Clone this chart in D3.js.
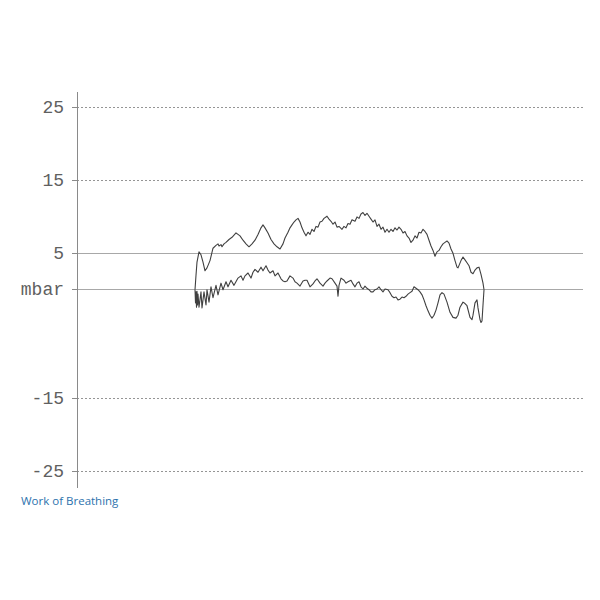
<!DOCTYPE html>
<html>
	<head>
		<script type="text/javascript" src="https://cdn.jsdelivr.net/npm/d3@7"></script>
		<style type="text/css">
			body {
				margin: 0;
				background: #fff;
			}
			svg {
				display: block;
			}
			.axis line,
			.axis path {
				stroke: #8a8a8a;
				shape-rendering: crispEdges;
			}
			.axis text {
				font: 18px "Liberation Mono", "DejaVu Sans Mono", monospace;
				fill: #606060;
			}
			.grid line {
				stroke: #a8a8a8;
				shape-rendering: crispEdges;
			}
			.grid line.dashed {
				stroke-dasharray: 2, 2;
				stroke: #959595;
			}
			.trace {
				fill: none;
				stroke: #404040;
				stroke-width: 1.1;
				stroke-linejoin: round;
			}
			.caption {
				font: 11.5px "Open Sans", sans-serif;
				fill: #2c72ad;
			}
		</style>
	</head>
<body>
	<script type="text/javascript">
		// pressure ticks (mbar)
		var tickValues = [25, 15, 5, 0, -15, -25];
		var tickLabels = ["25", "15", "5", "mbar", "-15", "-25"];
		var dashedTicks = [25, 15, -15, -25];

		// upper trace: [time s, pressure mbar]
		var upperTrace = [
			[0.00, -0.1], [0.01, 1.9], [0.02, 3.7], [0.04, 5.1], [0.06, 4.7], [0.08, 3.7],
			[0.10, 2.5], [0.12, 2.9], [0.15, 3.9], [0.18, 5.6], [0.21, 6.0], [0.23, 6.2],
			[0.24, 5.9], [0.26, 6.1], [0.27, 5.8], [0.29, 6.2], [0.31, 6.4], [0.34, 6.8],
			[0.37, 7.1], [0.41, 7.7], [0.43, 7.5], [0.45, 7.3], [0.48, 6.7], [0.51, 6.2],
			[0.54, 5.8], [0.57, 6.2], [0.60, 6.7], [0.63, 7.5], [0.66, 8.4], [0.68, 8.8],
			[0.70, 8.4], [0.73, 7.7], [0.76, 6.8], [0.79, 6.2], [0.82, 5.8], [0.85, 5.5],
			[0.88, 6.2], [0.90, 7.0], [0.93, 7.8], [0.95, 8.4], [0.97, 8.8], [0.99, 9.2],
			[1.01, 9.5], [1.03, 9.7], [1.05, 9.2], [1.07, 8.4], [1.09, 7.8], [1.11, 7.3],
			[1.13, 7.8], [1.15, 7.5], [1.17, 8.2], [1.19, 7.9], [1.21, 8.6], [1.23, 8.5],
			[1.25, 9.2], [1.27, 9.3], [1.29, 9.7], [1.32, 10.0], [1.34, 9.6], [1.36, 9.3],
			[1.38, 8.9], [1.40, 9.2], [1.42, 8.5], [1.44, 8.6], [1.47, 8.2], [1.49, 8.6],
			[1.51, 8.4], [1.53, 9.0], [1.55, 8.9], [1.57, 9.5], [1.60, 9.3], [1.62, 9.9],
			[1.64, 9.7], [1.66, 10.3], [1.68, 10.5], [1.70, 10.1], [1.72, 10.4], [1.74, 10.0],
			[1.76, 9.6], [1.78, 9.2], [1.80, 9.5], [1.82, 8.6], [1.84, 8.9], [1.86, 8.2],
			[1.88, 8.5], [1.90, 7.8], [1.92, 8.2], [1.94, 7.8], [1.96, 8.2], [1.98, 7.9],
			[2.00, 8.4], [2.02, 8.1], [2.04, 8.5], [2.06, 8.2], [2.08, 7.7], [2.10, 7.9],
			[2.12, 7.3], [2.14, 7.0], [2.16, 6.4], [2.18, 6.7], [2.20, 7.3], [2.22, 7.0],
			[2.24, 7.8], [2.26, 7.7], [2.28, 8.2], [2.30, 7.9], [2.32, 7.5], [2.34, 6.7],
			[2.36, 5.9], [2.38, 5.3], [2.40, 4.5], [2.42, 5.1], [2.44, 5.3], [2.46, 5.8],
			[2.48, 6.2], [2.50, 6.4], [2.52, 6.6], [2.54, 6.3], [2.56, 5.5], [2.58, 4.9],
			[2.60, 3.9], [2.62, 3.0], [2.63, 2.9], [2.66, 3.9], [2.68, 4.4], [2.70, 4.0],
			[2.72, 3.6], [2.74, 3.2], [2.76, 2.3], [2.78, 2.1], [2.80, 2.6], [2.82, 2.9],
			[2.84, 3.0], [2.86, 2.0], [2.88, 0.8], [2.89, -0.1]
		];

		// lower trace: [time s, pressure mbar]
		var lowerTrace = [
			[0.000, -0.1], [0.005, -1.9], [0.010, -0.4], [0.015, -2.5], [0.020, -0.3], [0.025, -2.2],
			[0.03, -0.7], [0.04, -2.5], [0.06, -0.4], [0.07, -2.6], [0.09, -0.4], [0.11, -2.2],
			[0.12, -0.1], [0.14, -1.8], [0.16, 0.3], [0.18, -1.2], [0.21, 0.5], [0.23, -0.8],
			[0.26, 0.8], [0.28, -0.1], [0.31, 1.0], [0.33, 0.3], [0.36, 1.2], [0.39, 0.5],
			[0.43, 1.5], [0.46, 1.8], [0.48, 1.2], [0.50, 1.8], [0.53, 2.2], [0.56, 1.5],
			[0.58, 2.3], [0.60, 2.7], [0.63, 2.3], [0.66, 3.0], [0.68, 2.5], [0.71, 3.2],
			[0.73, 2.6], [0.75, 2.2], [0.78, 2.5], [0.80, 1.8], [0.83, 2.2], [0.86, 1.4],
			[0.88, 1.1], [0.90, 1.0], [0.92, 1.1], [0.95, 1.8], [0.98, 1.5], [1.00, 1.0],
			[1.02, 0.8], [1.05, 0.4], [1.08, 1.1], [1.10, 1.2], [1.12, 1.2], [1.15, 0.3],
			[1.18, 0.7], [1.20, 1.1], [1.22, 1.4], [1.25, 0.8], [1.28, 0.4], [1.30, 0.8],
			[1.32, 1.1], [1.35, 1.5], [1.37, 1.4], [1.40, 0.8], [1.42, 0.4], [1.43, -1.0],
			[1.44, 0.5], [1.46, 1.5], [1.49, 1.2], [1.51, 0.8], [1.53, 1.0], [1.56, 1.2],
			[1.58, 0.7], [1.60, 0.3], [1.62, 0.8], [1.64, 1.0], [1.66, 0.3], [1.68, 0.0],
			[1.70, 0.4], [1.72, 0.1], [1.74, -0.1], [1.76, -0.4], [1.78, -0.4], [1.80, -0.1],
			[1.82, 0.0], [1.84, 0.3], [1.86, -0.1], [1.88, -0.4], [1.90, 0.0], [1.93, -0.1],
			[1.95, -0.5], [1.97, -1.0], [1.99, -1.2], [2.01, -1.1], [2.03, -1.5], [2.05, -1.4],
			[2.07, -1.1], [2.09, -1.2], [2.11, -1.0], [2.13, -0.7], [2.15, -0.5], [2.17, -0.3],
			[2.19, 0.3], [2.21, 0.1], [2.23, -0.1], [2.25, -0.4], [2.27, -0.8], [2.29, -1.5],
			[2.31, -2.3], [2.33, -3.0], [2.35, -3.6], [2.37, -4.0], [2.39, -3.6], [2.41, -2.9],
			[2.43, -1.9], [2.45, -0.8], [2.47, -0.5], [2.49, -0.7], [2.52, -1.8], [2.55, -3.2],
			[2.58, -3.9], [2.61, -4.0], [2.63, -3.6], [2.65, -2.5], [2.68, -1.8], [2.70, -2.0],
			[2.72, -2.3], [2.75, -3.9], [2.77, -4.2], [2.78, -3.6], [2.80, -1.9], [2.82, -1.5],
			[2.83, -2.6], [2.85, -4.2], [2.86, -4.6], [2.87, -4.4], [2.88, -2.2], [2.89, -0.1]
		];

		var w = 600;
		var h = 600;
		var left = 77;
		var right = 583;

		var x = d3.scaleLinear()
			.domain([-1.18, 3.88])
			.range([left, right]);
		var y = d3.scaleLinear()
			.domain([-25, 25])
			.range([471, 107]);

		var svg = d3.select("body").append("svg")
			.attr("width", w)
			.attr("height", h);

		// horizontal reference lines
		svg.append("g")
			.attr("class", "grid")
			.selectAll("line")
			.data(tickValues)
			.enter().append("line")
			.classed("dashed", function (d) {
				return dashedTicks.indexOf(d) >= 0;
			})
			.attr("x1", left)
			.attr("x2", right)
			.attr("y1", function (d) { return Math.round(y(d)) + 0.5; })
			.attr("y2", function (d) { return Math.round(y(d)) + 0.5; });

		var yAxis = d3.axisLeft(y)
			.tickValues(tickValues)
			.tickSize(5)
			.tickPadding(8)
			.tickFormat(function (d, i) {
				return tickLabels[i];
			});

		var axis = svg.append("g")
			.attr("class", "axis")
			.attr("transform", "translate(" + left + ", 0)")
			.call(yAxis);

		// axis line runs a bit past the outer ticks
		axis.select(".domain").remove();
		axis.append("line")
			.attr("x1", 0.5)
			.attr("x2", 0.5)
			.attr("y1", y(27.05))
			.attr("y2", y(-27.3));

		var line = d3.line()
			.x(function (d) { return x(d[0]); })
			.y(function (d) { return y(d[1]); });

		svg.append("path")
			.datum(upperTrace)
			.attr("class", "trace")
			.attr("d", line);

		svg.append("path")
			.datum(lowerTrace)
			.attr("class", "trace")
			.attr("d", line);

		svg.append("text")
			.attr("class", "caption")
			.attr("x", 21)
			.attr("y", 505)
			.text("Work of Breathing");
	</script>
</body>
</html>
